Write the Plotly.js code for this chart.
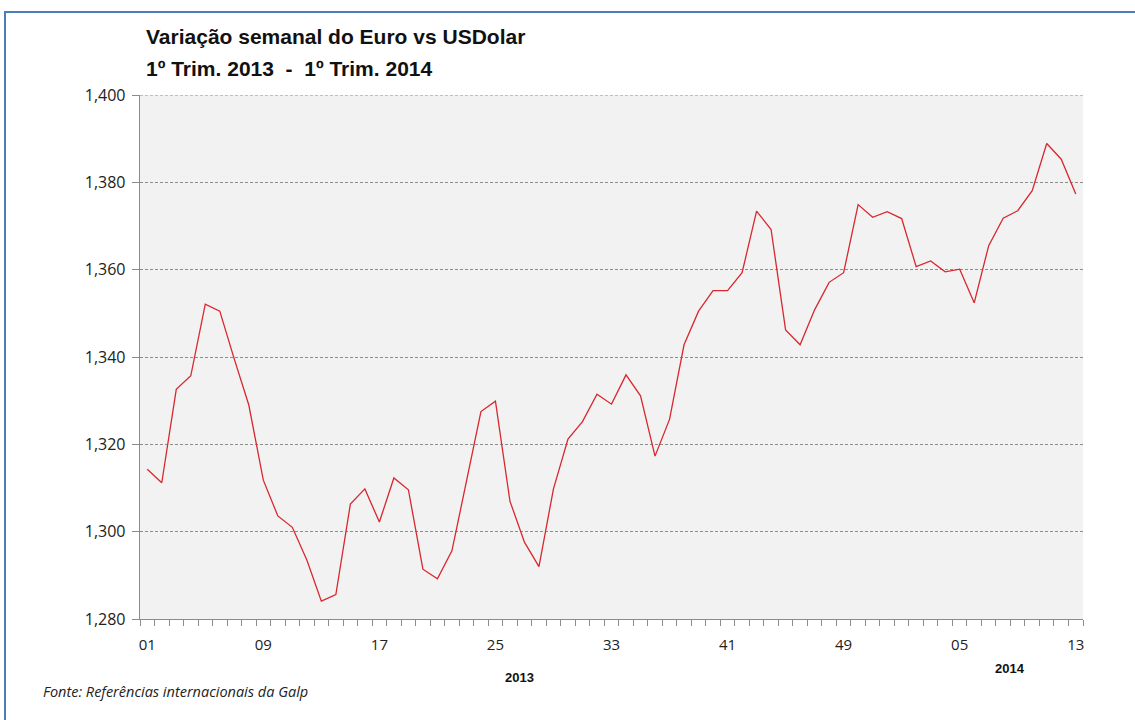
<!DOCTYPE html>
<html>
<head>
<meta charset="utf-8">
<script src="https://cdn.plot.ly/plotly-3.0.1.min.js"></script>
<style>
  html, body { margin: 0; padding: 0; background: #fff; overflow: hidden; }
  #wrap { position: relative; width: 1135px; height: 720px; overflow: hidden; }
  #chart { width: 1135px; height: 720px; }
  #frame { position: absolute; left: 4px; top: 11px; width: 1150px; height: 730px;
           border: 2px solid #4a7ebb; box-sizing: border-box; pointer-events: none; }
</style>
</head>
<body>
<div id="wrap">
  <div id="chart"></div>
  <div id="frame"></div>
</div>
<script>
// Weekly categories: 2013 weeks 01-52, then 2014 weeks 01-13
const weeks = [
  "2013-01","2013-02","2013-03","2013-04","2013-05","2013-06","2013-07","2013-08","2013-09","2013-10",
  "2013-11","2013-12","2013-13","2013-14","2013-15","2013-16","2013-17","2013-18","2013-19","2013-20",
  "2013-21","2013-22","2013-23","2013-24","2013-25","2013-26","2013-27","2013-28","2013-29","2013-30",
  "2013-31","2013-32","2013-33","2013-34","2013-35","2013-36","2013-37","2013-38","2013-39","2013-40",
  "2013-41","2013-42","2013-43","2013-44","2013-45","2013-46","2013-47","2013-48","2013-49","2013-50",
  "2013-51","2013-52","2014-01","2014-02","2014-03","2014-04","2014-05","2014-06","2014-07","2014-08",
  "2014-09","2014-10","2014-11","2014-12","2014-13"
];

// EUR/USD weekly rate
const eurUsd = [
  1.3143, 1.3112, 1.3326, 1.3357, 1.3521, 1.3505, 1.3395, 1.3290, 1.3118, 1.3036,
  1.3010, 1.2935, 1.2841, 1.2856, 1.3063, 1.3098, 1.3022, 1.3123, 1.3096, 1.2914,
  1.2892, 1.2956, 1.3115, 1.3275, 1.3299, 1.3070, 1.2976, 1.2920, 1.3098, 1.3212,
  1.3252, 1.3315, 1.3292, 1.3359, 1.3311, 1.3173, 1.3257, 1.3428, 1.3505, 1.3552,
  1.3552, 1.3593, 1.3734, 1.3692, 1.3462, 1.3428, 1.3508, 1.3571, 1.3593, 1.3749,
  1.3720, 1.3733, 1.3717, 1.3607, 1.3620, 1.3595, 1.3601, 1.3524, 1.3655, 1.3718,
  1.3735, 1.3781, 1.3889, 1.3853, 1.3773
];

// Labelled ticks
const tickWeeks  = ["2013-01","2013-09","2013-17","2013-25","2013-33","2013-41","2013-49","2014-05","2014-13"];
const tickLabels = ["01","09","17","25","33","41","49","05","13"];

// Axis range
const yMin = 1.28;
const yMax = 1.40;

// Year labels
const yearLabels = ["2013", "2014"];
const yearWeeks  = ["2013-26", "2014-08"];

const titleText = "Variação semanal do Euro vs USDolar";
const subtitleText = "1º Trim. 2013\u00a0\u00a0-\u00a0\u00a01º Trim. 2014";
const sourceText = "Fonte: Referências internacionais da Galp";

const xIdx = weeks.map((w, i) => i);
const tickIdx = tickWeeks.map(w => weeks.indexOf(w));

const trace = {
  x: xIdx,
  y: eurUsd,
  type: "scatter",
  mode: "lines",
  line: { color: "#d7282f", width: 1.3 },
  hoverinfo: "y"
};

const titleFont = { family: "Liberation Sans, Arial, sans-serif", size: 21, color: "#111", weight: "bold" };

const layout = {
  width: 1135,
  height: 720,
  margin: { l: 140, r: 52, t: 95, b: 101 },
  paper_bgcolor: "#ffffff",
  plot_bgcolor: "#f2f2f2",
  separators: ",.",
  showlegend: false,
  xaxis: {
    range: [-0.5, weeks.length - 0.5],
    tickmode: "array",
    tickvals: tickIdx,
    ticktext: tickLabels,
    ticks: "",
    showgrid: false,
    zeroline: false,
    showline: true,
    linecolor: "#8c8c8c",
    linewidth: 1.3,
    tickfont: { family: "Open Sans, sans-serif", size: 15, color: "#222" },
    ticklabelstandoff: 12,
    minor: { ticks: "outside", tick0: -0.5, dtick: 1, ticklen: 6, tickcolor: "#8c8c8c", tickwidth: 1, showgrid: false },
    fixedrange: true
  },
  yaxis: {
    range: [yMin, yMax],
    tickmode: "linear",
    tick0: yMin,
    dtick: 0.02,
    tickformat: ".3f",
    ticks: "outside",
    ticklen: 7,
    tickcolor: "#8c8c8c",
    showline: true,
    linecolor: "#8c8c8c",
    linewidth: 1.3,
    showgrid: true,
    gridcolor: "#8c8c8c",
    gridwidth: 1,
    griddash: "3px,2px",
    zeroline: false,
    tickfont: { family: "Open Sans, sans-serif", size: 16, color: "#222" },
    ticklabelstandoff: 3,
    fixedrange: true
  },
  shapes: [
    {
      type: "line", xref: "paper", yref: "y",
      x0: 0, x1: 1, y0: yMax, y1: yMax,
      line: { color: "#8c8c8c", width: 1, dash: "3px,2px" }
    }
  ],
  annotations: [
    {
      text: "<b>" + titleText + "</b>",
      x: (144 - 140) / 943, xref: "paper",
      y: (619 - 36) / 524, yref: "paper",
      xanchor: "left", yanchor: "middle", showarrow: false,
      font: titleFont
    },
    {
      text: "<b>" + subtitleText + "</b>",
      x: (144 - 140) / 943, xref: "paper",
      y: (619 - 68) / 524, yref: "paper",
      xanchor: "left", yanchor: "middle", showarrow: false,
      font: titleFont
    },
    {
      text: "<b>" + yearLabels[0] + "</b>",
      x: weeks.indexOf(yearWeeks[0]) + 0.64, xref: "x",
      y: (619 - 677) / 524, yref: "paper",
      xanchor: "center", yanchor: "middle", showarrow: false,
      font: { family: "Liberation Sans, Arial, sans-serif", size: 13, color: "#111" }
    },
    {
      text: "<b>" + yearLabels[1] + "</b>",
      x: weeks.indexOf(yearWeeks[1]) + 0.5, xref: "x",
      y: (619 - 668) / 524, yref: "paper",
      xanchor: "center", yanchor: "middle", showarrow: false,
      font: { family: "Liberation Sans, Arial, sans-serif", size: 13, color: "#111" }
    },
    {
      text: "<i>" + sourceText + "</i>",
      x: (41 - 140) / 943, xref: "paper",
      y: (619 - 691) / 524, yref: "paper",
      xanchor: "left", yanchor: "middle", showarrow: false,
      font: { family: "Open Sans, sans-serif", size: 14.5, color: "#222" }
    }
  ]
};

Plotly.newPlot("chart", [trace], layout, { displayModeBar: false, staticPlot: true });
</script>
</body>
</html>
